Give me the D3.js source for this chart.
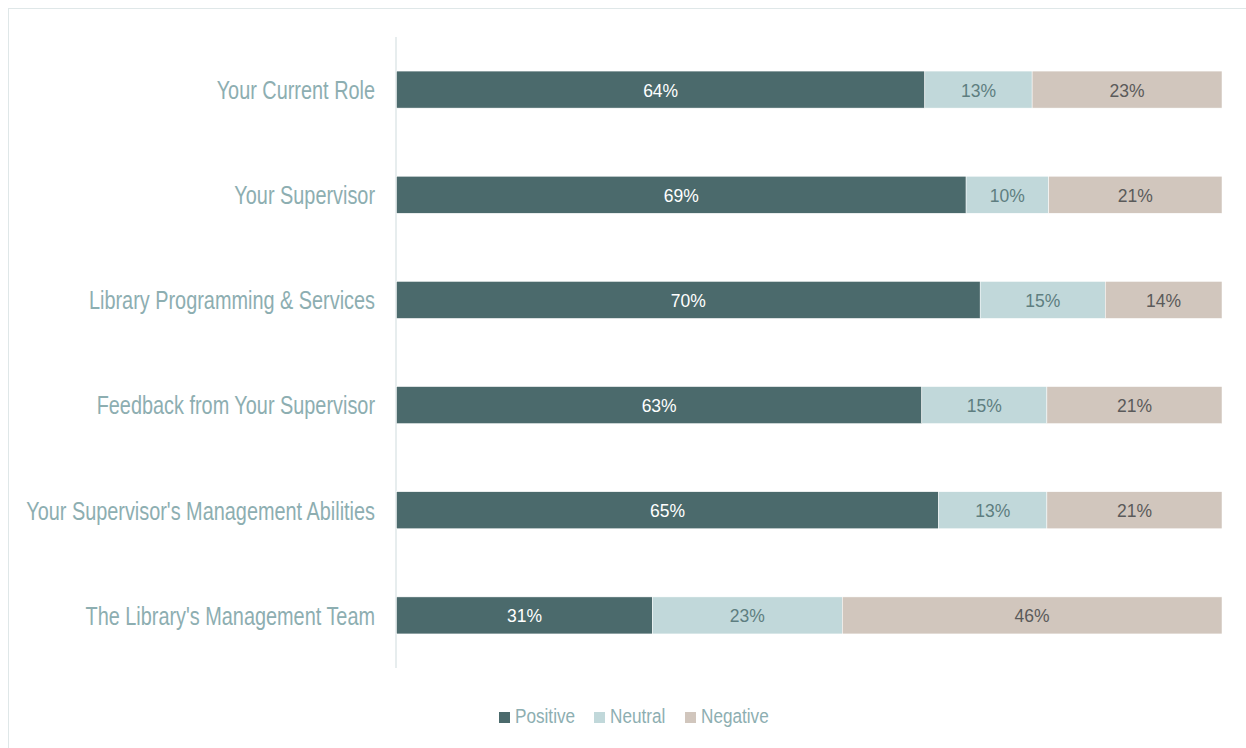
<!DOCTYPE html>
<html>
<head>
<meta charset="utf-8">
<script src="https://cdn.jsdelivr.net/npm/d3@7"></script>
<style>
  body { margin: 0; background: #fff; }
  text { font-family: "Liberation Sans", Arial, sans-serif; }
</style>
</head>
<body>
<svg width="1246" height="748"></svg>
<script>
// The svg
var svg = d3.select("svg"),
    width = +svg.attr("width"),
    height = +svg.attr("height");

// Data (percent labels as shown; bars are normalised to 100%)
var categories = [
  "Your Current Role",
  "Your Supervisor",
  "Library Programming & Services",
  "Feedback from Your Supervisor",
  "Your Supervisor's Management Abilities",
  "The Library's Management Team"
];
var seriesNames = ["Positive", "Neutral", "Negative"];
var positive = [64, 69, 70, 63, 65, 31];
var neutral  = [13, 10, 15, 15, 13, 23];
var negative = [23, 21, 14, 21, 21, 46];

var colors     = ["#4b6a6c", "#c1d8da", "#d1c6bd"];
var labelColor = ["#ffffff", "#5e7e80", "#5a5a5a"];

// build rows for the stack
var rows = categories.map(function (c, i) {
  return { cat: c, Positive: positive[i], Neutral: neutral[i], Negative: negative[i] };
});

var stack = d3.stack()
    .keys(seriesNames)
    .offset(d3.stackOffsetExpand);
var layers = stack(rows);

// outer frame
svg.append("rect")
    .attr("x", 8.5).attr("y", 8.5)
    .attr("width", width + 20).attr("height", height + 20)
    .attr("fill", "none")
    .attr("stroke", "#dfe7e8")
    .attr("stroke-width", 1);

var x = d3.scaleLinear().domain([0, 1]).range([396.5, 1222]);
var y = d3.scaleBand().domain(categories).range([37, 668]).paddingInner(0.648).paddingOuter(0.324);

// axis line
svg.append("line")
    .attr("x1", 396).attr("x2", 396)
    .attr("y1", 37).attr("y2", 668)
    .attr("stroke", "#dfe7e9")
    .attr("stroke-width", 1.5);

// category labels (narrow look: squeeze the text horizontally)
svg.append("g")
    .selectAll("g")
    .data(categories)
    .enter()
    .append("g")
    .attr("transform", function (d) {
      return "translate(375," + (y(d) + y.bandwidth() / 2) + ") scale(0.795,1)";
    })
    .append("text")
    .attr("dy", "0.37em")
    .attr("text-anchor", "end")
    .attr("fill", "#8daeb1")
    .attr("font-size", "25px")
    .text(function (d) { return d; });

// bars
var groups = svg.append("g")
    .selectAll("g")
    .data(layers)
    .enter()
    .append("g")
    .attr("fill", function (d, i) { return colors[i]; });

groups.selectAll("rect")
    .data(function (d) { return d; })
    .enter()
    .append("rect")
    .attr("x", function (d) { return x(d[0]); })
    .attr("y", function (d) { return y(d.data.cat); })
    .attr("width", function (d) { return x(d[1]) - x(d[0]); })
    .attr("height", y.bandwidth())
    .attr("stroke", "#ffffff")
    .attr("stroke-width", 0.5);

// value labels
groups.each(function (layer, li) {
  d3.select(this).selectAll("text")
    .data(layer)
    .enter()
    .append("text")
    .attr("x", function (d) { return (x(d[0]) + x(d[1])) / 2; })
    .attr("y", function (d) { return y(d.data.cat) + y.bandwidth() / 2; })
    .attr("dy", "0.4em")
    .attr("text-anchor", "middle")
    .attr("fill", labelColor[li])
    .attr("font-size", "17.5px")
    .text(function (d) { return d.data[layer.key] + "%"; });
});

// legend
var legendX = [499, 594, 685];
var legend = svg.append("g")
    .selectAll("g")
    .data(seriesNames)
    .enter()
    .append("g")
    .attr("transform", function (d, i) { return "translate(" + legendX[i] + ",712)"; });

legend.append("rect")
    .attr("width", 11).attr("height", 11)
    .attr("fill", function (d, i) { return colors[i]; });

legend.append("g")
    .attr("transform", "translate(16,11) scale(0.88,1)")
    .append("text")
    .attr("fill", "#8daeb1")
    .attr("font-size", "19.5px")
    .text(function (d) { return d; });
</script>
</body>
</html>
